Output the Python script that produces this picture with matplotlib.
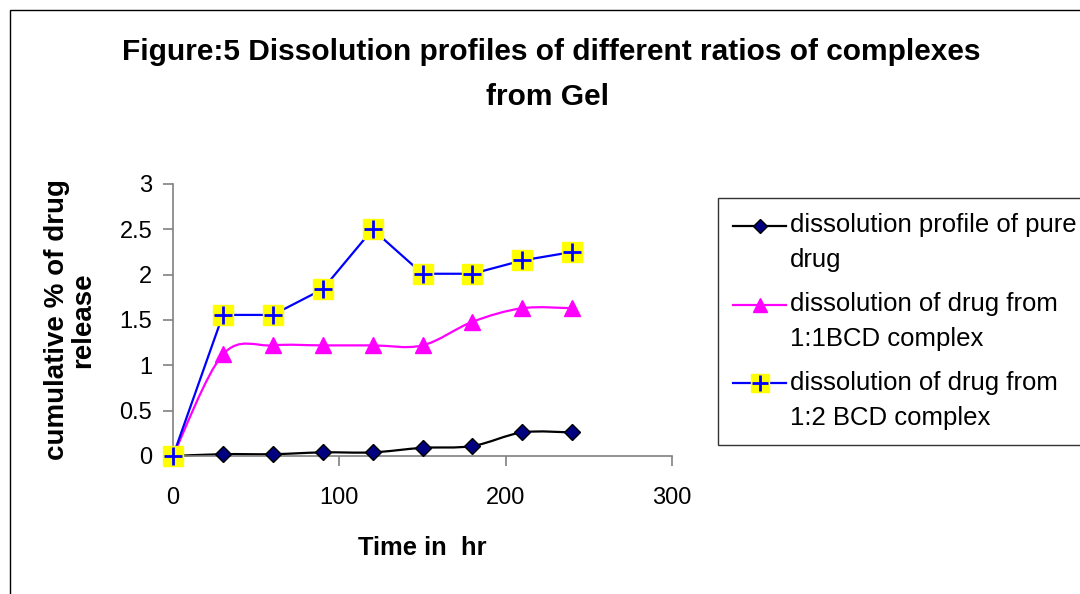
import matplotlib
matplotlib.use('Agg')
import matplotlib.pyplot as plt
from matplotlib.path import Path
from matplotlib.patches import PathPatch, Rectangle
from matplotlib.lines import Line2D
from matplotlib.legend_handler import HandlerTuple, HandlerLine2D

plt.rcParams['font.family'] = ['Liberation Sans', 'DejaVu Sans']

time_hr = [0, 30, 60, 90, 120, 150, 180, 210, 240]
pure_drug = [0, 0.02, 0.02, 0.04, 0.04, 0.09, 0.11, 0.26, 0.26]
bcd_1_1 = [0, 1.12, 1.22, 1.22, 1.22, 1.22, 1.48, 1.63, 1.63]
bcd_1_2 = [0, 1.556, 1.556, 1.84, 2.5, 2.01, 2.01, 2.157, 2.25]

labels = ['dissolution profile of pure\ndrug',
          'dissolution of drug from\n1:1BCD complex',
          'dissolution of drug from\n1:2 BCD complex']


def smooth_path(x, y):
    # excel style smoothed line: catmull-rom turned into bezier segments
    n = len(x)
    verts = [(x[0], y[0])]
    codes = [Path.MOVETO]
    for i in range(n - 1):
        x0, y0 = (x[i - 1], y[i - 1]) if i > 0 else (x[i], y[i])
        x3, y3 = (x[i + 2], y[i + 2]) if i + 2 < n else (x[i + 1], y[i + 1])
        c1 = (x[i] + (x[i + 1] - x0) / 6, y[i] + (y[i + 1] - y0) / 6)
        c2 = (x[i + 1] - (x3 - x[i]) / 6, y[i + 1] - (y3 - y[i]) / 6)
        verts += [c1, c2, (x[i + 1], y[i + 1])]
        codes += [Path.CURVE4] * 3
    return Path(verts, codes)


class FirstLineHandler(HandlerLine2D):
    # put the legend symbol level with the first line of a 2-line label
    def create_artists(self, legend, orig_handle, xdescent, ydescent,
                       width, height, fontsize, trans):
        return super().create_artists(legend, orig_handle, xdescent,
                                      ydescent - 25, width, height,
                                      fontsize, trans)


fig = plt.figure(figsize=(10.8, 5.94), dpi=100)
fig.patches.append(Rectangle((10 / 1080, -0.1), 1.2, 1.1 - 10 / 594,
                             transform=fig.transFigure, fill=False,
                             edgecolor='black', linewidth=1))

ax = fig.add_axes([173 / 1080, 138 / 594, 499 / 1080, 272 / 594])

# pure drug
ax.add_patch(PathPatch(smooth_path(time_hr, pure_drug), fill=False,
                       edgecolor='black', linewidth=1.6, clip_on=False))
ax.plot(time_hr, pure_drug, ls='none', marker='D', ms=8.5,
        mfc='#000080', mec='black', mew=1, clip_on=False, zorder=4)

# 1:1 complex
ax.add_patch(PathPatch(smooth_path(time_hr, bcd_1_1), fill=False,
                       edgecolor='#ff00ff', linewidth=1.6, clip_on=False))
ax.plot(time_hr, bcd_1_1, ls='none', marker='^', ms=11,
        mfc='#ff00ff', mec='#ff00ff', clip_on=False, zorder=4)

# 1:2 complex
ax.plot(time_hr, bcd_1_2, color='#0000ff', lw=1.6, clip_on=False, zorder=3)
ax.plot(time_hr, bcd_1_2, ls='none', marker='s', ms=14,
        mfc='#ffff00', mec='#ffff00', clip_on=False, zorder=4)
ax.plot(time_hr, bcd_1_2, ls='none', marker='+', ms=13, mew=2,
        color='#0000ff', clip_on=False, zorder=5)

ax.set_xlim(0, 300)
ax.set_ylim(0, 3)
ax.set_xticks([0, 100, 200, 300])
ax.set_yticks([0, 0.5, 1, 1.5, 2, 2.5, 3])
ax.set_yticklabels(['0', '0.5', '1', '1.5', '2', '2.5', '3'])
for s in ['top', 'right']:
    ax.spines[s].set_visible(False)
for s in ['left', 'bottom']:
    ax.spines[s].set_color('#808080')
    ax.spines[s].set_linewidth(1.2)
ax.tick_params(direction='out', length=7, width=1.2, color='#808080',
               labelsize=17, labelcolor='black')
ax.tick_params(axis='x', pad=15)
ax.tick_params(axis='y', pad=8)

ax.set_xlabel('Time in  hr', fontsize=18.4, fontweight='bold', labelpad=20)
ax.set_ylabel('cumulative % of drug\nrelease', fontsize=20,
              fontweight='bold', labelpad=17, linespacing=1.0)

fig.text(551 / 1080, 1 - 52 / 594, 'Figure:5 Dissolution profiles of different ratios of complexes',
         ha='center', va='center', fontsize=21.5, fontweight='bold')
fig.text(548 / 1080, 1 - 97 / 594, 'from Gel',
         ha='center', va='center', fontsize=21.5, fontweight='bold')

h1 = Line2D([], [], color='black', lw=1.6, marker='D', ms=7,
            mfc='#000080', mec='black')
h2 = Line2D([], [], color='#ff00ff', lw=1.6, marker='^', ms=10,
            mfc='#ff00ff', mec='#ff00ff')
h3a = Line2D([], [], color='#0000ff', lw=1.6)
h3b = Line2D([], [], ls='none', marker='s', ms=13, mfc='#ffff00', mec='#ffff00')
h3c = Line2D([], [], ls='none', marker='+', ms=12, mew=2, color='#0000ff')

leg = fig.legend([h1, h2, (h3a, h3b, h3c)], labels,
                 handler_map={Line2D: FirstLineHandler(),
                              tuple: HandlerTuple(ndivide=1)},
                 loc='upper left', bbox_to_anchor=(718 / 1080, 1 - 198 / 594),
                 fontsize=18.5, frameon=True, fancybox=False, borderpad=0.6,
                 handlelength=2.05, handletextpad=0.15, labelspacing=0.76,
                 borderaxespad=0)
for t in leg.get_texts():
    t.set_linespacing(1.58)
leg.get_frame().set_edgecolor('black')
leg.get_frame().set_linewidth(1)

fig.savefig('out.png', dpi=100)
